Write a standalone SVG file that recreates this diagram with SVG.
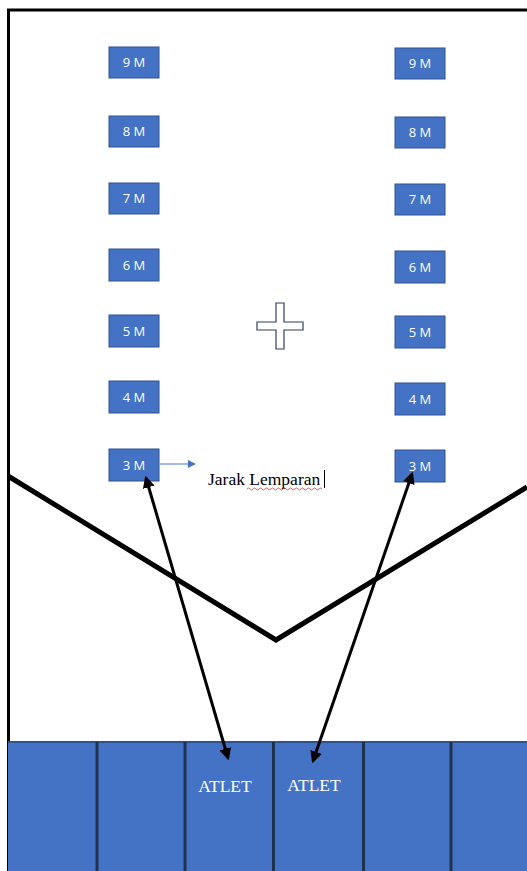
<svg xmlns="http://www.w3.org/2000/svg" width="527" height="871" viewBox="0 0 527 871">
  <defs>
    <style>
      .mark rect { fill: #4472C4; stroke: #2F528F; stroke-width: 1; }
      .mark text { fill: #ffffff; font-family: "Open Sans", "Liberation Sans", sans-serif; font-size: 13px; text-anchor: middle; }
      .lane { fill: #4472C4; }
      .divider { stroke: #1F3350; stroke-width: 3; }
      .atlet { fill: #ffffff; font-family: "Liberation Serif", serif; font-size: 17.5px; text-anchor: middle; }
      .throw { stroke: #000; stroke-width: 3; fill: none; }
    </style>
    <marker id="head" viewBox="0 0 10 10" refX="8" refY="5" markerWidth="4" markerHeight="4" orient="auto-start-reverse">
      <path d="M0,0 L10,5 L0,10 z" fill="#000"/>
    </marker>
    <marker id="blueHead" viewBox="0 0 10 10" refX="9" refY="5" markerWidth="8" markerHeight="8" orient="auto" markerUnits="userSpaceOnUse">
      <path d="M0,0 L10,5 L0,10 z" fill="#4472C4"/>
    </marker>
  </defs>

  <rect width="527" height="871" fill="#ffffff"/>

  <!-- field frame -->
  <path d="M8.5,871 V10 H527" fill="none" stroke="#000" stroke-width="3"/>

  <!-- left distance markers -->
  <g id="left-9m" class="mark"><rect x="109" y="47" width="50" height="31"/><text x="134" y="67">9 M</text></g>
  <g id="left-8m" class="mark"><rect x="109" y="116" width="50" height="31"/><text x="134" y="136">8 M</text></g>
  <g id="left-7m" class="mark"><rect x="109" y="183" width="50" height="31"/><text x="134" y="203">7 M</text></g>
  <g id="left-6m" class="mark"><rect x="109" y="249" width="50" height="32"/><text x="134" y="270">6 M</text></g>
  <g id="left-5m" class="mark"><rect x="109" y="315" width="50" height="32"/><text x="134" y="336">5 M</text></g>
  <g id="left-4m" class="mark"><rect x="109" y="381" width="50" height="32"/><text x="134" y="402">4 M</text></g>
  <g id="left-3m" class="mark"><rect x="109" y="449" width="50" height="32"/><text x="134" y="470">3 M</text></g>

  <!-- right distance markers -->
  <g id="right-9m" class="mark"><rect x="395" y="48" width="50" height="31"/><text x="420" y="68">9 M</text></g>
  <g id="right-8m" class="mark"><rect x="395" y="117" width="50" height="31"/><text x="420" y="137">8 M</text></g>
  <g id="right-7m" class="mark"><rect x="395" y="184" width="50" height="31"/><text x="420" y="204">7 M</text></g>
  <g id="right-6m" class="mark"><rect x="395" y="251" width="50" height="32"/><text x="420" y="272">6 M</text></g>
  <g id="right-5m" class="mark"><rect x="395" y="316" width="50" height="32"/><text x="420" y="337">5 M</text></g>
  <g id="right-4m" class="mark"><rect x="395" y="383" width="50" height="32"/><text x="420" y="404">4 M</text></g>
  <g id="right-3m" class="mark"><rect x="395" y="450" width="50" height="32"/><text x="420" y="471">3 M</text></g>

  <!-- centre cross -->
  <g id="centre-cross">
    <path d="M276,303 H284 V322 H303 V330 H284 V349 H276 V330 H257 V322 H276 Z" fill="#ffffff" stroke="#2F3F5F" stroke-width="1.2"/>
  </g>

  <!-- throwing line label -->
  <g id="label-jarak">
    <text x="208" y="485" font-family="Liberation Serif, serif" font-size="17.5" fill="#000">Jarak Lemparan</text>
    <path d="M247,489 q1.5,-2 3,0 t3,0 t3,0 t3,0 t3,0 t3,0 t3,0 t3,0 t3,0 t3,0 t3,0 t3,0 t3,0 t3,0 t3,0 t3,0 t3,0 t3,0 t3,0 t3,0 t3,0 t3,0 t3,0 t3,0 t3,0" fill="none" stroke="#E03030" stroke-width="0.8"/>
    <line x1="324.5" y1="470" x2="324.5" y2="488" stroke="#000" stroke-width="1"/>
  </g>

  <!-- boundary V -->
  <g id="boundary">
    <polyline points="8,476 276,640 527,487" fill="none" stroke="#000" stroke-width="5"/>
  </g>

  <!-- athlete lanes -->
  <g id="lanes">
    <rect class="lane" x="8" y="741" width="519" height="130"/>
    <line x1="8" y1="742" x2="527" y2="742" stroke="#2F528F" stroke-width="2"/>
    <line class="divider" x1="97" y1="742" x2="97" y2="871"/>
    <line class="divider" x1="185" y1="742" x2="185" y2="871"/>
    <line class="divider" x1="273.5" y1="742" x2="273.5" y2="871"/>
    <line class="divider" x1="363.5" y1="742" x2="363.5" y2="871"/>
    <line class="divider" x1="451" y1="742" x2="451" y2="871"/>
    <text class="atlet" x="225" y="792">ATLET</text>
    <text class="atlet" x="314" y="791">ATLET</text>
  </g>

  <!-- connectors -->
  <g id="connectors">
    <line x1="160" y1="464" x2="195" y2="464" stroke="#4472C4" stroke-width="1" marker-end="url(#blueHead)"/>
    <line class="throw" x1="146" y1="478" x2="228" y2="758" marker-start="url(#head)" marker-end="url(#head)"/>
    <line class="throw" x1="412" y1="474" x2="313" y2="761" marker-start="url(#head)" marker-end="url(#head)"/>
  </g>
</svg>
